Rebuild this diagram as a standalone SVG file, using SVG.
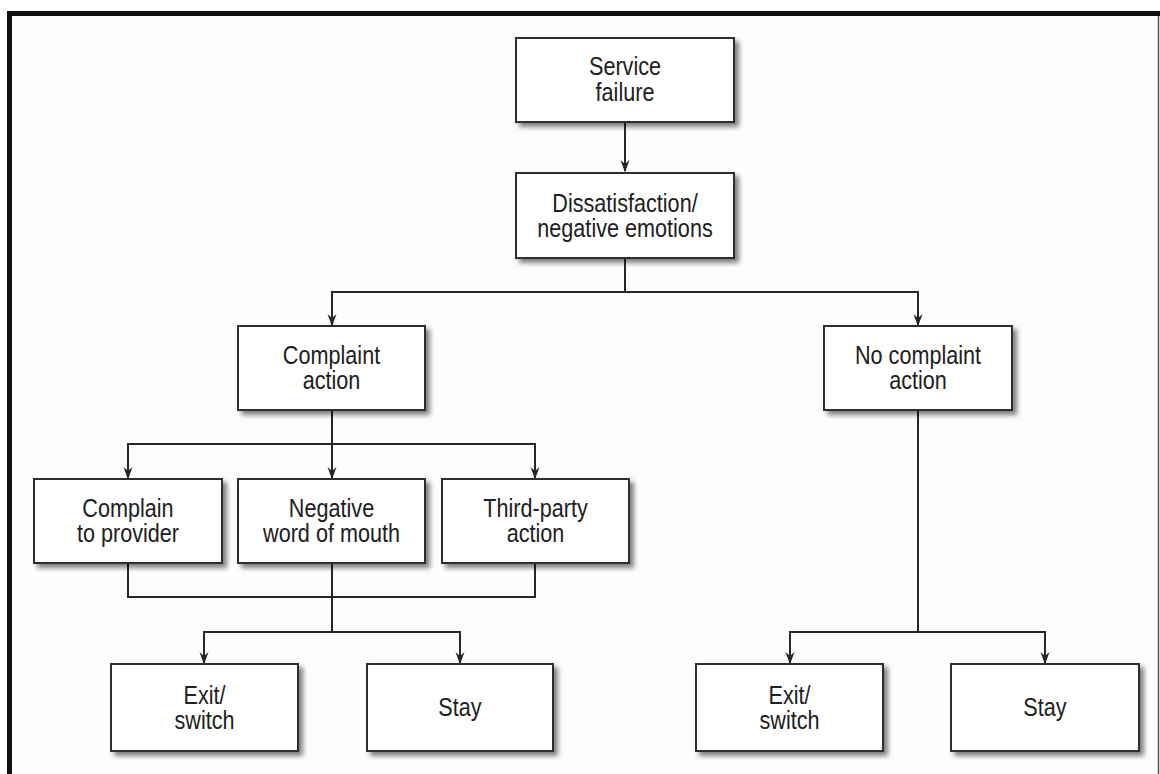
<svg xmlns="http://www.w3.org/2000/svg" width="1160" height="774" viewBox="0 0 1160 774">
  <defs>
    <style>
      .box { fill: #ffffff; stroke: #2e2e2e; stroke-width: 2; filter: url(#shadow); }
      .lbl { font-family: "Liberation Sans", Arial, Helvetica, sans-serif; font-size: 25px; fill: #202020; text-anchor: middle; }
      .wire { fill: none; stroke: #262626; stroke-width: 2; }
      .arrow { marker-end: url(#head); }
    </style>
    <filter id="shadow" x="-10%" y="-10%" width="130%" height="135%">
      <feDropShadow dx="4" dy="4" stdDeviation="2.5" flood-color="#000" flood-opacity="0.5"/>
    </filter>
    <marker id="head" markerUnits="userSpaceOnUse" viewBox="-13 -6 16 12" markerWidth="16" markerHeight="12" refX="0" refY="0" orient="auto">
      <path d="M1.5,0 L-11,-4.5 L-7,0 L-11,4.5 Z" fill="#262626"/>
    </marker>
  </defs>

  <!-- page and frame -->
  <rect width="1160" height="774" fill="#ffffff"/>
  <rect x="12" y="16" width="1146" height="758" fill="#fdfdfb"/>
  <rect x="7" y="11" width="1153" height="5" fill="#121010"/>
  <rect x="7" y="11" width="5" height="763" fill="#121010"/>
  <line x1="1158.5" y1="16" x2="1158.5" y2="774" stroke="#555" stroke-width="1.5"/>

  <!-- connectors -->
  <g id="connectors">
    <path class="wire arrow" d="M625 122 V171"/>
    <path class="wire arrow" d="M625 258 V292 H332 V325"/>
    <path class="wire arrow" d="M625 292 H918 V325"/>
    <path class="wire arrow" d="M332 410 V444 H128 V478"/>
    <path class="wire arrow" d="M332 444 V478"/>
    <path class="wire arrow" d="M332 444 H535 V478"/>
    <path class="wire" d="M128 563 V597 H535 V563"/>
    <path class="wire" d="M332 563 V632"/>
    <path class="wire arrow" d="M332 632 H204 V663"/>
    <path class="wire arrow" d="M332 632 H460 V663"/>
    <path class="wire arrow" d="M918 410 V632 H790 V663"/>
    <path class="wire arrow" d="M918 632 H1045 V663"/>
  </g>

  <!-- nodes -->
  <g id="service-failure">
    <rect class="box" x="516" y="38" width="218" height="84"/>
    <text class="lbl" transform="translate(625 75) scale(0.865 1)"><tspan x="0" y="0">Service</tspan><tspan x="0" y="26">failure</tspan></text>
  </g>

  <g id="dissatisfaction">
    <rect class="box" x="516" y="173" width="218" height="85"/>
    <text class="lbl" transform="translate(625 211.5) scale(0.865 1)"><tspan x="0" y="0">Dissatisfaction/</tspan><tspan x="0" y="26">negative emotions</tspan></text>
  </g>

  <g id="complaint-action">
    <rect class="box" x="238" y="326" width="187" height="84"/>
    <text class="lbl" transform="translate(331.5 363.5) scale(0.865 1)"><tspan x="0" y="0">Complaint</tspan><tspan x="0" y="26">action</tspan></text>
  </g>

  <g id="no-complaint-action">
    <rect class="box" x="824" y="326" width="188" height="84"/>
    <text class="lbl" transform="translate(918 363.5) scale(0.865 1)"><tspan x="0" y="0">No complaint</tspan><tspan x="0" y="26">action</tspan></text>
  </g>

  <g id="complain-to-provider">
    <rect class="box" x="34" y="479" width="188" height="84"/>
    <text class="lbl" transform="translate(128 516.5) scale(0.865 1)"><tspan x="0" y="0">Complain</tspan><tspan x="0" y="26">to provider</tspan></text>
  </g>

  <g id="negative-word-of-mouth">
    <rect class="box" x="238" y="479" width="187" height="84"/>
    <text class="lbl" transform="translate(331.5 516.5) scale(0.865 1)"><tspan x="0" y="0">Negative</tspan><tspan x="0" y="26">word of mouth</tspan></text>
  </g>

  <g id="third-party-action">
    <rect class="box" x="442" y="479" width="187" height="84"/>
    <text class="lbl" transform="translate(535.5 516.5) scale(0.865 1)"><tspan x="0" y="0">Third-party</tspan><tspan x="0" y="26">action</tspan></text>
  </g>

  <g id="exit-switch-left">
    <rect class="box" x="111" y="664" width="187" height="87"/>
    <text class="lbl" transform="translate(204.5 703.5) scale(0.865 1)"><tspan x="0" y="0">Exit/</tspan><tspan x="0" y="26">switch</tspan></text>
  </g>

  <g id="stay-left">
    <rect class="box" x="367" y="664" width="186" height="87"/>
    <text class="lbl" transform="translate(460 716) scale(0.865 1)">Stay</text>
  </g>

  <g id="exit-switch-right">
    <rect class="box" x="696" y="664" width="187" height="87"/>
    <text class="lbl" transform="translate(789.5 703.5) scale(0.865 1)"><tspan x="0" y="0">Exit/</tspan><tspan x="0" y="26">switch</tspan></text>
  </g>

  <g id="stay-right">
    <rect class="box" x="951" y="664" width="188" height="87"/>
    <text class="lbl" transform="translate(1045 716) scale(0.865 1)">Stay</text>
  </g>
</svg>
